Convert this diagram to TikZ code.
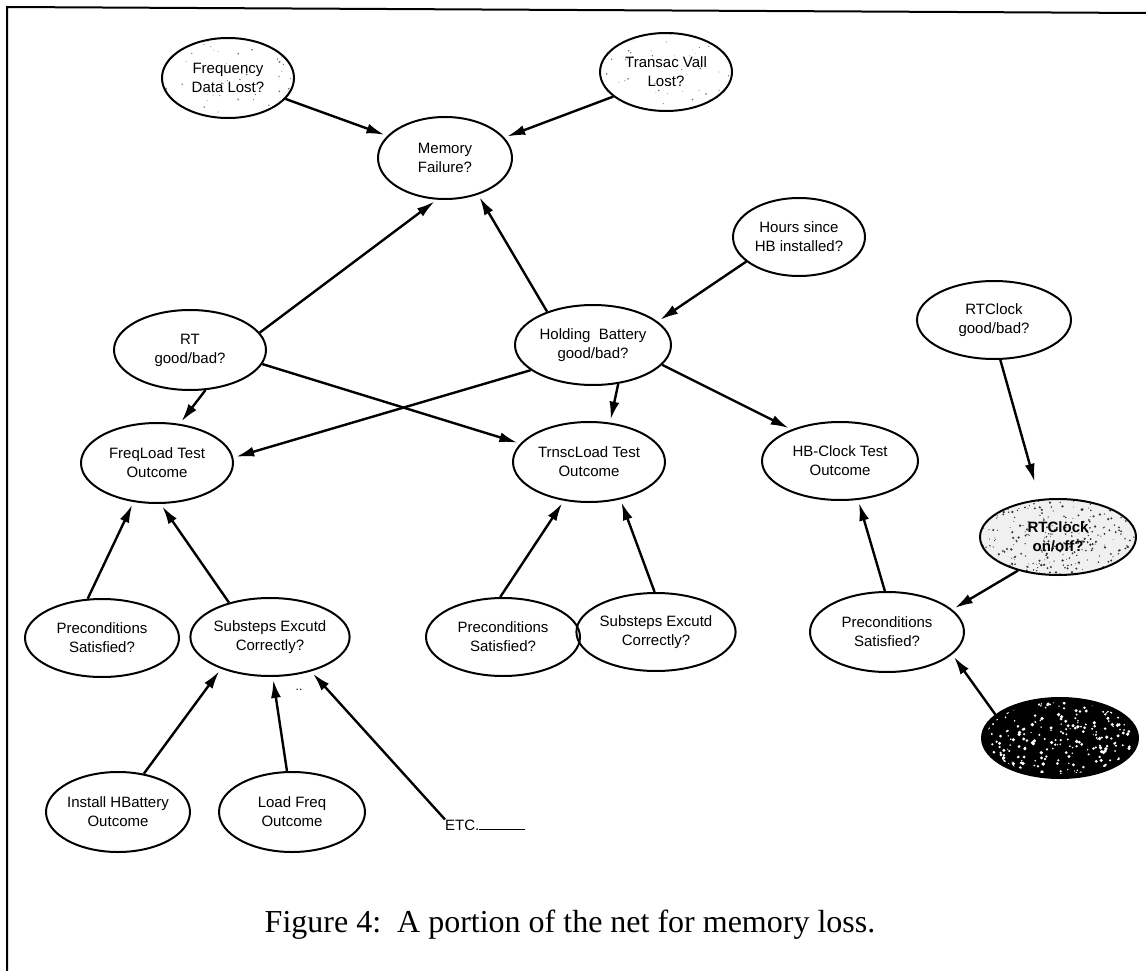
\documentclass[tikz,border=0pt]{standalone}
\usepackage{fontspec}
\setmainfont{Liberation Serif}
\newfontfamily\nodefont{Liberation Sans}
\usetikzlibrary{arrows.meta,shapes.geometric,backgrounds,calc}
\begin{document}
\begin{tikzpicture}[x=1pt,y=-1pt,
  nd/.style={ellipse,draw,line width=2pt,inner sep=0pt,align=center,
    minimum width=154pt,minimum height=78pt,
    font=\nodefont\fontsize{15}{19}\selectfont},
  arr/.style={line width=2.4pt,-{Latex[length=18pt,width=10pt]},shorten >=3pt}]
\useasboundingbox (0,0) rectangle (1146,971);
\draw[line width=2pt] (7,971) -- (7,7) -- (1146,13);

% nodes
\node[nd,minimum width=132pt,minimum height=80pt] (F) at (228,78) {Frequency\\Data Lost?};
\node[nd,minimum width=132pt,minimum height=78pt] (T) at (666,72) {Transac Vall\\Lost?};
\node[nd,minimum width=134pt,minimum height=82pt] (M) at (445,158) {Memory\\Failure?};
\node[nd,minimum width=132pt,minimum height=78pt] (H) at (799,237) {Hours since\\HB installed?};
\node[nd,minimum width=152pt,minimum height=80pt] (RT) at (190,350) {RT\\good/bad?};
\node[nd,minimum width=156pt,minimum height=80pt] (HB) at (593,345) {Holding~~Battery\\good/bad?};
\node[nd] (RC) at (994,320) {RTClock\\good/bad?};
\node[nd,minimum width=152pt,minimum height=80pt] (FL) at (157,463) {FreqLoad Test\\Outcome};
\node[nd,minimum width=152pt,minimum height=80pt] (TL) at (589,462) {TrnscLoad Test\\Outcome};
\node[nd,minimum width=156pt] (HC) at (840,461) {HB-Clock Test\\Outcome};
\node[nd,minimum width=156pt,minimum height=76pt,font=\nodefont\bfseries\fontsize{15}{19}\selectfont] (RO) at (1058,537) {RTClock\\on/off?};
\node[nd] (P1) at (102,638) {Preconditions\\Satisfied?};
\node[nd] (S1) at (270,637) {Substeps Excutd\\Correctly?};
\node[nd] (P2) at (503,637) {Preconditions\\Satisfied?};
\node[nd,minimum width=152pt] (S2) at (656,632) {Substeps Excutd\\Correctly?};
\node[nd,minimum height=80pt] (P3) at (887,632) {Preconditions\\Satisfied?};
\node[nd,minimum width=156pt,minimum height=80pt] (D) at (1060,738) {};
\node[nd,minimum width=144pt,minimum height=80pt] (I) at (118,812) {Install HBattery\\Outcome};
\node[nd,minimum width=146pt,minimum height=80pt] (L) at (292,812) {Load Freq\\Outcome};
\node[anchor=west,inner sep=0pt,font=\nodefont\fontsize{15}{19}\selectfont] (etc) at (445,825) {ETC.\rule{46pt}{1.2pt}};
\node[inner sep=0pt,font=\nodefont\fontsize{12}{14}\selectfont] (dd) at (299,690) {..};

% page background and speckled fills (scanned texture)
\begin{scope}[on background layer]
  \fill[white] (0,0) rectangle (1146,971);
  \pgfmathsetseed{7}
  \fill[black] (D.center) ellipse [x radius=78pt, y radius=40pt];
  \begin{scope}
    \clip (D.center) ellipse [x radius=74pt, y radius=36pt];
    \foreach \i in {1,...,260}
      \fill[white] ($(D.center)+(rnd*150-75,rnd*76-38)$) circle ({0.6+rnd*1.3});
  \end{scope}
  \fill[gray!12] (RO.center) ellipse [x radius=78pt, y radius=38pt];
  \begin{scope}
    \clip (RO.center) ellipse [x radius=78pt, y radius=38pt];
    \foreach \i in {1,...,320}
      \fill[black!80] ($(RO.center)+(rnd*156-78,rnd*76-38)$) circle ({0.4+rnd*0.9});
  \end{scope}
  \begin{scope}
    \clip (F.center) ellipse [x radius=66pt, y radius=40pt];
    \foreach \i in {1,...,60}
      \fill[black!60] ($(F.center)+(rnd*132-66,rnd*80-40)$) circle ({0.3+rnd*0.6});
  \end{scope}
  \begin{scope}
    \clip (T.center) ellipse [x radius=66pt, y radius=39pt];
    \foreach \i in {1,...,60}
      \fill[black!60] ($(T.center)+(rnd*132-66,rnd*78-39)$) circle ({0.3+rnd*0.6});
  \end{scope}
\end{scope}

% edges
\draw[arr] (F.-20) -- (M.159);
\draw[arr] (T.205) -- (M.19);
\draw[arr] (RT.14) -- (M.259);
\draw[arr] (HB.144) -- (M.-48);
\draw[arr] (H.205) -- (HB.20);
\draw[arr] (RT.-69) -- (FL.60);
\draw[arr] (RT.-11) -- (TL.165);
\draw[arr] (HB.202) -- (FL.4);
\draw[arr] (HB.-57) -- (TL.62);
\draw[arr] (HB.-16) -- (HC.147);
\draw[arr,shorten >=18pt] (RC.-81) -- (RO.116);
\draw[arr] (RO.220) -- (P3.19);
\draw[arr] (D.160) -- (P3.-19);
\draw[arr] (P3.93) -- (HC.-65);
\draw[arr] (P1.110) -- (FL.239);
\draw[arr] (S1.140) -- (FL.-85);
\draw[arr] (P2.94) -- (TL.237);
\draw[arr] (S2.92) -- (TL.-50);
\draw[arr] (I.56) -- (S1.213);
\draw[arr] (L.97) -- (S1.-86);
\draw[arr] (etc.north west) -- (S1.-40);

% caption
\node[font=\fontsize{32}{38}\selectfont] (cap) at (570,925) {Figure 4:\ \ A portion of the net for memory loss.};
\end{tikzpicture}
\end{document}
